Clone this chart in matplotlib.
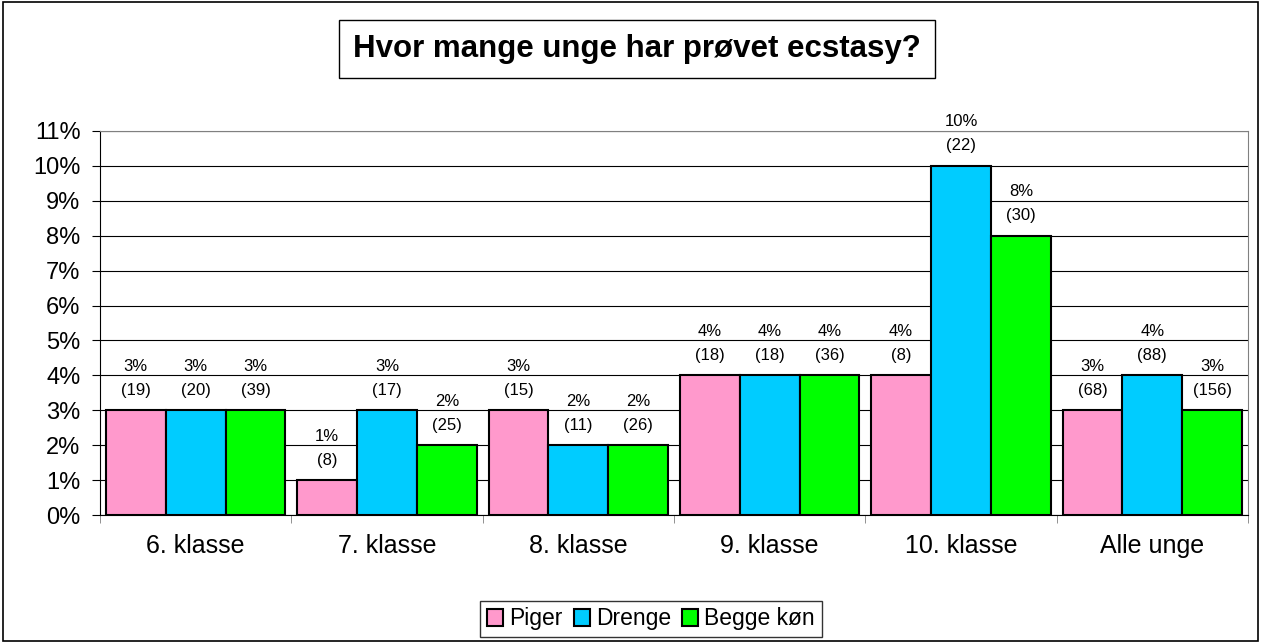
import numpy as np
import matplotlib.pyplot as plt
from matplotlib.patches import Rectangle

categories = ["6. klasse", "7. klasse", "8. klasse", "9. klasse", "10. klasse", "Alle unge"]
series_names = ["Piger", "Drenge", "Begge køn"]
piger = [3, 1, 3, 4, 4, 3]
drenge = [3, 3, 2, 4, 10, 4]
begge = [3, 2, 2, 4, 8, 3]
piger_n = [19, 8, 15, 18, 8, 68]
drenge_n = [20, 17, 11, 18, 22, 88]
begge_n = [39, 25, 26, 36, 30, 156]
colors = ["#FF99CC", "#00CCFF", "#00FF00"]

plt.rcParams['font.family'] = ['Liberation Sans', 'DejaVu Sans']

fig = plt.figure(figsize=(12.61, 6.43), dpi=100)
ax = fig.add_axes([100 / 1261, 1 - 515 / 643, 1148 / 1261, 384 / 643])

# outer frame
fig.patches.append(Rectangle((0.002, 0.003), 0.996, 0.994, transform=fig.transFigure,
                             fill=False, edgecolor="black", linewidth=1.2))

x = np.arange(len(categories))
w = 0.313
values = [piger, drenge, begge]
counts = [piger_n, drenge_n, begge_n]
for k in range(3):
    pos = x + (k - 1) * w
    ax.bar(pos, values[k], width=w, color=colors[k], edgecolor="black",
           linewidth=1.5, label=series_names[k], zorder=3)
    for xi, v, n in zip(pos, values[k], counts[k]):
        ax.annotate("%d%%\n(%d)" % (v, n), (xi, v), xytext=(0, 9),
                    textcoords="offset points", ha="center", va="bottom",
                    fontsize=12, linespacing=1.75)

ax.set_xlim(-0.5, len(categories) - 0.5)
ax.set_ylim(0, 11)
ax.set_yticks(range(0, 12))
ax.set_yticklabels(["%d%%" % v for v in range(0, 12)], fontsize=17)
ax.yaxis.grid(True, color="black", linewidth=0.8, zorder=0)
ax.set_axisbelow(True)

ax.set_xticks(x)
ax.set_xticklabels(categories, fontsize=18)
ax.tick_params(axis="x", which="major", length=0, pad=14)
ax.set_xticks(np.arange(-0.5, len(categories)), minor=True)
ax.tick_params(axis="x", which="minor", length=6, color="grey")
ax.tick_params(axis="y", length=6, direction="out", pad=8)

ax.spines["left"].set_color("black")
ax.spines["bottom"].set_color("black")
ax.spines["top"].set_color("grey")
ax.spines["right"].set_color("grey")

fig.text(637 / 1261, 1 - 49 / 643, "Hvor mange unge har prøvet ecstasy?",
         ha="center", va="center", fontsize=22.5, fontweight="bold",
         bbox=dict(boxstyle="square,pad=0.45", facecolor="white", edgecolor="black", linewidth=1))

fig.legend(loc="center", bbox_to_anchor=(651 / 1261, 1 - 619 / 643), ncol=3,
           fontsize=16.5, frameon=True, fancybox=False, edgecolor="black",
           handlelength=0.7, handleheight=0.7, handletextpad=0.25, columnspacing=0.5,
           borderpad=0.3)

fig.savefig("out.png", dpi=100)
